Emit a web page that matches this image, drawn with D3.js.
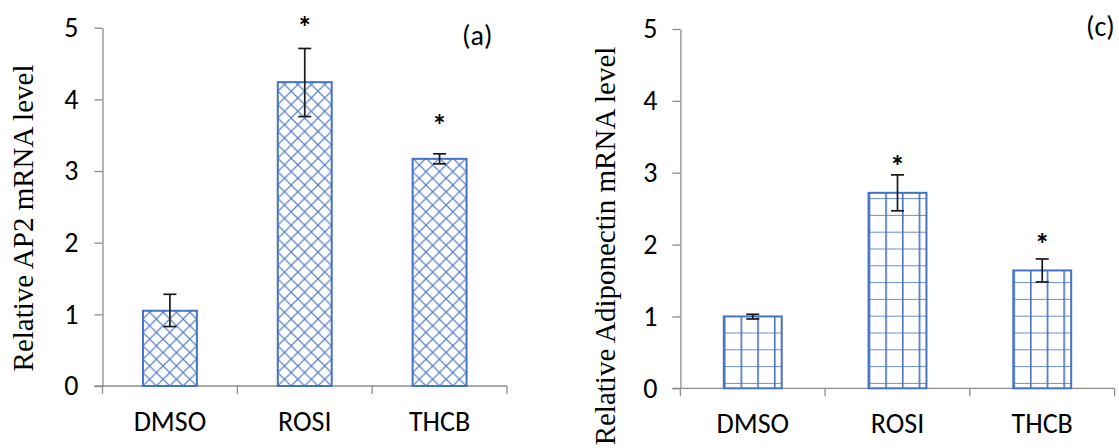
<!DOCTYPE html>
<html>
<head>
<meta charset="utf-8">
<script src="https://cdn.jsdelivr.net/npm/d3@7"></script>
<style>
  body { margin: 0; background: #fff; }
  svg { display: block; }
</style>
</head>
<body>
<div id="chart"></div>
<script>
var categories = ['DMSO', 'ROSI', 'THCB'];
var yTicks = [0, 1, 2, 3, 4, 5];

// panel (a) AP2
var ap2Values = [1.05, 4.24, 3.17];
var ap2ErrLow = [0.83, 3.76, 3.10];
var ap2ErrHigh = [1.28, 4.71, 3.24];
var ap2Stars = [null, 5.09, 3.72];

// panel (c) Adiponectin
var adipoValues = [1.0, 2.72, 1.64];
var adipoErrLow = [0.965, 2.47, 1.48];
var adipoErrHigh = [1.03, 2.97, 1.80];
var adipoStars = [null, 3.18, 2.09];

var blue = '#4472c4';
var axisGray = '#8c8c8c';
var sansFont = 'Carlito, Lato, "Liberation Sans", sans-serif';
var serifFont = '"Liberation Serif", "Times New Roman", serif';
var labelSize = '28px';

var svg = d3.select('#chart').append('svg')
    .attr('width', 1119)
    .attr('height', 448)
    .style('background-color', '#fff');

var defs = svg.append('defs');

function drawPanel(p) {
    var g = svg.append('g');

    var x = d3.scaleBand()
        .domain(categories)
        .range([p.left, p.right])
        .paddingInner(0.6)
        .paddingOuter(0.3);

    var y = d3.scaleLinear()
        .domain([0, 5])
        .range([p.bottom, p.top]);

    // y axis
    var yAxis = g.append('g')
        .attr('transform', 'translate(' + p.left + ',0)')
        .call(d3.axisLeft(y).tickValues(yTicks).tickFormat(d3.format('d'))
            .tickSize(8).tickSizeOuter(0).tickPadding(p.tickPad));
    yAxis.select('.domain').attr('stroke', axisGray).attr('stroke-width', 1.3);
    yAxis.selectAll('.tick line').attr('stroke', axisGray).attr('stroke-width', 1.3);
    yAxis.selectAll('.tick text')
        .attr('font-family', sansFont)
        .attr('font-size', labelSize)
        .attr('fill', '#000');

    // x axis line with category boundary ticks
    g.append('line')
        .attr('x1', p.left - 8)
        .attr('x2', p.right)
        .attr('y1', y(0))
        .attr('y2', y(0))
        .attr('stroke', axisGray)
        .attr('stroke-width', 1.3);

    var bounds = d3.range(categories.length + 1).map(function(i) {
        return x.range()[0] + i * x.step();
    });
    g.selectAll('.xtick').data(bounds).enter().append('line')
        .attr('x1', function(d) { return d; })
        .attr('x2', function(d) { return d; })
        .attr('y1', y(0))
        .attr('y2', y(0) + 8)
        .attr('stroke', axisGray)
        .attr('stroke-width', 1.3);

    g.selectAll('.xlabel').data(categories).enter().append('text')
        .attr('x', function(d) { return x(d) + x.bandwidth() / 2; })
        .attr('y', y(0) + 45)
        .attr('text-anchor', 'middle')
        .attr('font-family', sansFont)
        .attr('font-size', labelSize)
        .attr('fill', '#000')
        .text(function(d) { return d; });

    // patterns, one per bar so the hatch lines up with the bar edge
    categories.forEach(function(c, i) {
        var id = p.name + '-pat-' + i;
        var pat = defs.append('pattern')
            .attr('id', id)
            .attr('patternUnits', 'userSpaceOnUse');
        if (p.hatch === 'diamond') {
            var s = 13.4;
            pat.attr('width', s).attr('height', s)
                .attr('x', x(c)).attr('y', y(0));
            pat.append('rect').attr('width', s).attr('height', s).attr('fill', '#fff');
            pat.append('path')
                .attr('d', 'M0,0L' + s + ',' + s + 'M' + s + ',0L0,' + s)
                .attr('stroke', blue)
                .attr('stroke-width', 1.2)
                .attr('stroke-opacity', 0.9);
        } else {
            var w = 16.7, h = 16.8;
            pat.attr('width', w).attr('height', h)
                .attr('x', x(c)).attr('y', y(0) + 11.4);
            pat.append('rect').attr('width', w).attr('height', h).attr('fill', '#fff');
            pat.append('line')
                .attr('x1', 0).attr('x2', 0).attr('y1', 0).attr('y2', h)
                .attr('stroke', blue).attr('stroke-width', 3.2);
            pat.append('line')
                .attr('x1', 0).attr('x2', w).attr('y1', 0).attr('y2', 0)
                .attr('stroke', blue).attr('stroke-width', 2).attr('stroke-opacity', 0.8);
        }
    });

    // bars
    g.selectAll('.bar').data(p.values).enter().append('rect')
        .attr('x', function(d, i) { return x(categories[i]); })
        .attr('y', function(d) { return y(d); })
        .attr('width', x.bandwidth())
        .attr('height', function(d) { return y(0) - y(d); })
        .attr('fill', function(d, i) { return 'url(#' + p.name + '-pat-' + i + ')'; })
        .attr('stroke', blue)
        .attr('stroke-width', 2);

    // error bars
    var cap = 6.5;
    categories.forEach(function(c, i) {
        var cx = x(c) + x.bandwidth() / 2;
        var eg = g.append('g')
            .attr('stroke', '#1a1a1a')
            .attr('stroke-width', 1.7);
        eg.append('line')
            .attr('x1', cx).attr('x2', cx)
            .attr('y1', y(p.errHigh[i])).attr('y2', y(p.errLow[i]));
        eg.append('line')
            .attr('x1', cx - cap).attr('x2', cx + cap)
            .attr('y1', y(p.errHigh[i])).attr('y2', y(p.errHigh[i]));
        eg.append('line')
            .attr('x1', cx - cap).attr('x2', cx + cap)
            .attr('y1', y(p.errLow[i])).attr('y2', y(p.errLow[i]));

        if (p.stars[i] !== null) {
            g.append('text')
                .attr('x', cx)
                .attr('y', y(p.stars[i]) + 16)
                .attr('text-anchor', 'middle')
                .attr('font-family', sansFont)
                .attr('font-size', '30px')
                .attr('font-weight', 'bold')
                .attr('fill', '#000')
                .text('*');
        }
    });

    // y axis title
    g.append('text')
        .attr('transform', 'translate(' + p.titleX + ',' + p.titleY + ') rotate(-90)')
        .attr('text-anchor', 'middle')
        .attr('font-family', serifFont)
        .attr('font-size', '29px')
        .attr('fill', '#000')
        .text(p.title);

    // panel letter
    g.append('text')
        .attr('x', p.letterX)
        .attr('y', p.letterY)
        .attr('font-family', sansFont)
        .attr('font-size', labelSize)
        .attr('fill', '#000')
        .text(p.letter);
}

drawPanel({
    name: 'a',
    left: 102.5, right: 507, top: 27.7, bottom: 386,
    tickPad: 16,
    values: ap2Values, errLow: ap2ErrLow, errHigh: ap2ErrHigh, stars: ap2Stars,
    hatch: 'diamond',
    title: 'Relative AP2 mRNA level', titleX: 33, titleY: 218,
    letter: '(a)', letterX: 462, letterY: 45
});

drawPanel({
    name: 'c',
    left: 680.4, right: 1114.6, top: 29, bottom: 388.3,
    tickPad: 15,
    values: adipoValues, errLow: adipoErrLow, errHigh: adipoErrHigh, stars: adipoStars,
    hatch: 'grid',
    title: 'Relative Adiponectin mRNA level', titleX: 615, titleY: 246,
    letter: '(c)', letterX: 1086, letterY: 36
});
</script>
</body>
</html>
